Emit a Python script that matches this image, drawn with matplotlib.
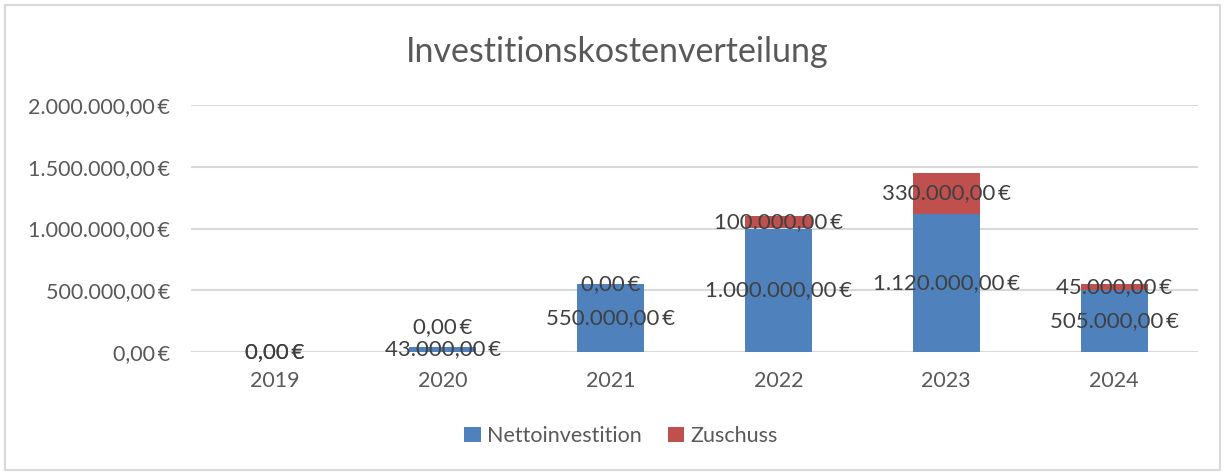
import numpy as np
import matplotlib.pyplot as plt
from matplotlib.patches import Rectangle

plt.rcParams['font.family'] = ['Lato', 'DejaVu Sans']

years = ['2019', '2020', '2021', '2022', '2023', '2024']
netto = [0, 43000, 550000, 1000000, 1120000, 505000]
zuschuss = [0, 0, 0, 100000, 330000, 45000]
yticks = [0, 500000, 1000000, 1500000, 2000000]

# offsets (points) for the Zuschuss labels, Excel moved the 2020 one up
zuschuss_dy = [0, 14, 0, 0, 0, 0]

blue = '#4F81BD'
red = '#C0504D'
txt = '#595959'
lbl = '#404040'


def eur(v):
    s = '{:,.2f}'.format(v).replace(',', 'X').replace('.', ',').replace('X', '.')
    return s + '\u2009€'


fig = plt.figure(figsize=(12.26, 4.73), dpi=100)
fig.patches.append(Rectangle((5 / 1226, 3 / 473), 1215 / 1226, 465 / 473,
                             transform=fig.transFigure, fill=False,
                             edgecolor='#D9D9D9', linewidth=1.5))
ax = fig.add_axes([191 / 1226, 1 - 352 / 473, 1007 / 1226, 247 / 473])

x = np.arange(len(years))
ax.bar(x, netto, width=0.4, color=blue, label='Nettoinvestition', zorder=3)
ax.bar(x, zuschuss, width=0.4, bottom=netto, color=red, label='Zuschuss', zorder=3)

for i in range(len(years)):
    ax.annotate(eur(netto[i]), (x[i], netto[i] / 2), ha='center', va='center',
                fontsize=16, color=lbl, zorder=4)
    ax.annotate(eur(zuschuss[i]), (x[i], netto[i] + zuschuss[i] / 2),
                xytext=(0, zuschuss_dy[i]), textcoords='offset points',
                ha='center', va='center', fontsize=16, color=lbl, zorder=4)

ax.set_xlim(-0.5, len(years) - 0.5)
ax.set_ylim(0, 2000000)
ax.set_yticks(yticks)
ax.set_yticklabels([eur(v) for v in yticks])
ax.set_xticks(x)
ax.set_xticklabels(years)
ax.tick_params(axis='both', length=0, labelsize=15.5, labelcolor=txt)
ax.tick_params(axis='y', pad=15)
ax.tick_params(axis='x', pad=14)
ax.grid(axis='y', color='#D9D9D9', linewidth=1.5, zorder=0)
for s in ax.spines.values():
    s.set_visible(False)

fig.text(617 / 1226, 1 - 52 / 473, 'Investitionskostenverteilung',
         ha='center', va='center', fontsize=24.5, color=txt)

fig.legend(loc='center', bbox_to_anchor=(621 / 1226, 1 - 436 / 473), ncol=2,
           frameon=False, fontsize=15.5, labelcolor=txt, handlelength=0.75,
           handleheight=0.75, handletextpad=0.3, columnspacing=1.2)

fig.savefig('out.png', dpi=100)
